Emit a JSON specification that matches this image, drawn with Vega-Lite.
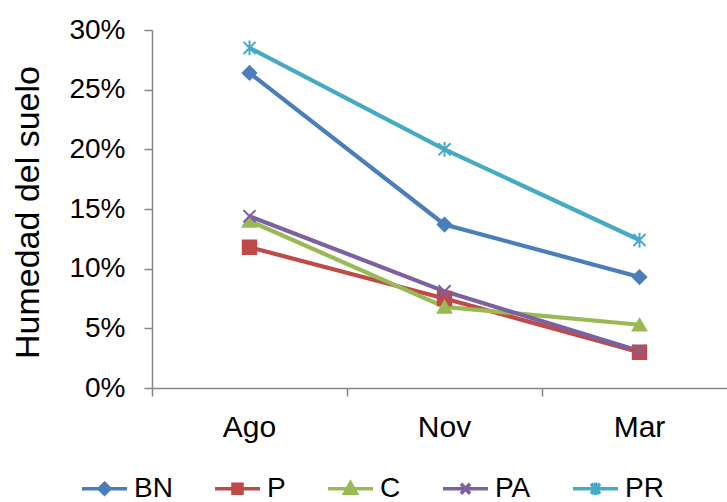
{
  "$schema": "https://vega.github.io/schema/vega-lite/v6.json",
  "width": 575,
  "height": 358,
  "autosize": {"type": "none"},
  "padding": {"left": 152, "top": 30, "right": 0, "bottom": 114},
  "config": {
    "view": {"stroke": null},
    "font": "Liberation Sans",
    "axis": {"grid": false, "domainColor": "#868686", "tickColor": "#868686", "domainWidth": 1.5, "tickWidth": 1.5, "labelColor": "#000000", "titleColor": "#000000", "labelFont": "Liberation Sans", "titleFont": "Liberation Sans"},
    "legend": {"labelFont": "Liberation Sans"}
  },
  "data": {
    "values": [
      {"mes": "Ago", "serie": "BN", "humedad": 0.264},
      {"mes": "Nov", "serie": "BN", "humedad": 0.137},
      {"mes": "Mar", "serie": "BN", "humedad": 0.093},
      {"mes": "Ago", "serie": "P", "humedad": 0.118},
      {"mes": "Nov", "serie": "P", "humedad": 0.075},
      {"mes": "Mar", "serie": "P", "humedad": 0.030},
      {"mes": "Ago", "serie": "C", "humedad": 0.140},
      {"mes": "Nov", "serie": "C", "humedad": 0.068},
      {"mes": "Mar", "serie": "C", "humedad": 0.053},
      {"mes": "Ago", "serie": "PA", "humedad": 0.144},
      {"mes": "Nov", "serie": "PA", "humedad": 0.081},
      {"mes": "Mar", "serie": "PA", "humedad": 0.031},
      {"mes": "Ago", "serie": "PR", "humedad": 0.285},
      {"mes": "Nov", "serie": "PR", "humedad": 0.200},
      {"mes": "Mar", "serie": "PR", "humedad": 0.124}
    ]
  },
  "encoding": {
    "x": {
      "field": "mes", "type": "ordinal", "sort": ["Ago", "Nov", "Mar"],
      "scale": {"type": "band", "paddingInner": 0, "paddingOuter": 0, "range": [0, 585]},
      "axis": {"title": null, "labelAngle": 0, "labelFontSize": 30, "tickSize": 8, "labelPadding": 16, "bandPosition": 0, "domainWidth": 1.5}
    },
    "y": {
      "field": "humedad", "type": "quantitative",
      "scale": {"domain": [0, 0.3], "nice": false, "zero": true},
      "axis": {"title": "Humedad del suelo", "values": [0, 0.05, 0.1, 0.15, 0.2, 0.25, 0.3], "format": ".0%", "labelFontSize": 28, "tickSize": 8, "labelPadding": 19, "titleFontSize": 34, "titleFontWeight": "normal", "titleX": -124, "titleY": 182, "titleBaseline": "middle", "titleAlign": "center", "titleAngle": -90}
    }
  },
  "layer": [
    {
      "mark": {"type": "line", "strokeWidth": 4.2},
      "encoding": {
        "color": {"field": "serie", "type": "nominal", "scale": {"domain": ["BN", "P", "C", "PA", "PR"], "range": ["#4A7EBB", "#BE4B48", "#98B954", "#7D60A0", "#46AAC5"]}, "legend": null}
      }
    },
    {
      "mark": {"type": "point", "filled": true, "opacity": 1, "strokeWidth": 2, "size": 180},
      "encoding": {
        "color": {"field": "serie", "type": "nominal", "scale": {"domain": ["BN", "P", "C", "PA", "PR"], "range": ["#4A7EBB", "#BE4B48", "#98B954", "#7D60A0", "#46AAC5"]}, "legend": null},
        "stroke": {"field": "serie", "type": "nominal", "scale": {"domain": ["BN", "P", "C", "PA", "PR"], "range": ["#4A7EBB", "#BE4B48", "#98B954", "#7D60A0", "#46AAC5"]}, "legend": null},
        "shape": {"field": "serie", "type": "nominal", "scale": {"domain": ["BN", "P", "C", "PA", "PR"], "range": ["diamond", "square", "triangle-up", "M-0.9,-0.9L0.9,0.9M-0.9,0.9L0.9,-0.9", "M-0.9,-0.9L0.9,0.9M-0.9,0.9L0.9,-0.9M0,-1.1V1.1"]}, "legend": null}
      }
    },
    {
      "transform": [{"filter": "false"}],
      "mark": {"type": "point", "filled": true, "opacity": 1, "strokeWidth": 3.5},
      "encoding": {
        "color": {"field": "serie", "type": "nominal", "scale": {"domain": ["BN", "P", "C", "PA", "PR"], "range": ["#4A7EBB", "#BE4B48", "#98B954", "#7D60A0", "#46AAC5"]},
          "legend": {"title": null, "orient": "none", "legendX": -72, "legendY": 434, "direction": "horizontal", "symbolSize": 2025, "symbolStrokeWidth": 3.5, "labelFontSize": 28, "labelOffset": 5, "columnPadding": 35, "padding": 0, "labelColor": "#000000", "symbolOpacity": 1}},
        "stroke": {"field": "serie", "type": "nominal", "scale": {"domain": ["BN", "P", "C", "PA", "PR"], "range": ["#4A7EBB", "#BE4B48", "#98B954", "#7D60A0", "#46AAC5"]},
          "legend": {"title": null, "orient": "none", "legendX": -72, "legendY": 434, "direction": "horizontal", "symbolSize": 2025, "symbolStrokeWidth": 3.5, "labelFontSize": 28, "labelOffset": 5, "columnPadding": 35, "padding": 0, "labelColor": "#000000", "symbolOpacity": 1}},
        "shape": {"field": "serie", "type": "nominal", "scale": {"domain": ["BN", "P", "C", "PA", "PR"], "range": ["M-1,0H1M0,-0.24L0.24,0L0,0.24L-0.24,0Z", "M-1,0H1M-0.2,-0.2H0.2V0.2H-0.2Z", "M-1,0H1M0,-0.26L0.26,0.2H-0.26Z", "M-1,0H1M-0.2,-0.22L0.2,0.22M-0.2,0.22L0.2,-0.22", "M-1,0H1M-0.2,-0.22L0.2,0.22M-0.2,0.22L0.2,-0.22M0,-0.28V0.28"]},
          "legend": {"title": null, "orient": "none", "legendX": -72, "legendY": 434, "direction": "horizontal", "symbolSize": 2025, "symbolStrokeWidth": 3.5, "labelFontSize": 28, "labelOffset": 5, "columnPadding": 35, "padding": 0, "labelColor": "#000000", "symbolOpacity": 1}}
      }
    }
  ],
  "resolve": {"scale": {"shape": "independent", "color": "independent", "stroke": "independent"}}
}
